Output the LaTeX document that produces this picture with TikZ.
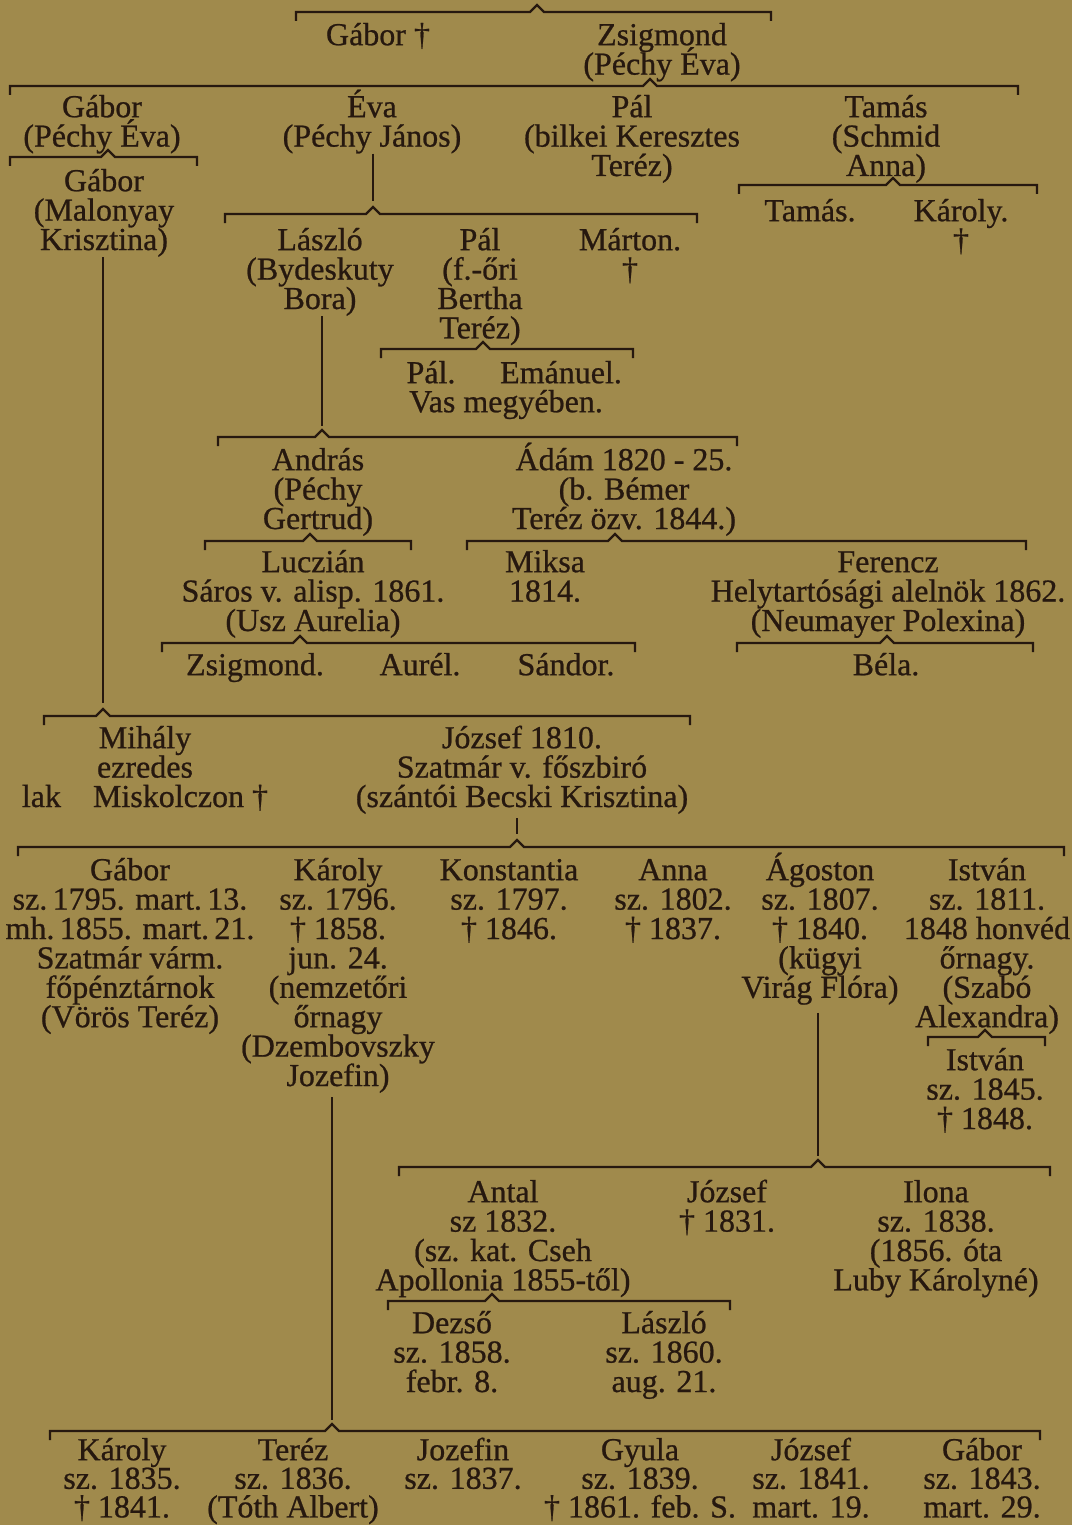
\documentclass[tikz,border=0pt]{standalone}
\usepackage{fontspec}
\setmainfont{Liberation Serif}[FakeBold=0.7]
\definecolor{paper}{HTML}{A08A4C}
\definecolor{ink}{HTML}{26180F}
\newcommand\entfont{\fontsize{32}{29.4}\selectfont}
\newcommand\toprule{\rule{0pt}{36pt}}
\tikzset{
 ent/.style={anchor=north, align=center, inner sep=0pt, yshift=26pt, text=ink,
   font=\entfont},
 tight/.style={font=\fontsize{32}{28.6}\selectfont},
 br/.style={draw=ink, line width=2.4pt, line join=miter},
 ln/.style={draw=ink, line width=2.2pt},
}
\newcommand\ent[5][]{\node[ent,#1] (#2) at (#3,#4) {\toprule #5};}
\newcommand\brk[5]{%
 \draw[br] (#2,#5+9) -- (#2,#5) -- (#3-7,#5) -- (#3,#5-7) -- (#3+7,#5) -- (#4,#5) -- (#4,#5+9);
 \coordinate (#1) at (#3,#5-7);}
\begin{document}
\lineskiplimit=-100pt\relax
\lineskip=0pt\relax
\begin{tikzpicture}[x=1pt,y=-1pt]
\useasboundingbox (0,0) rectangle (1072,1525);
\fill[paper] (0,0) rectangle (1072,1525);
% brackets
\brk{b1}{296}{537}{771}{12}
\brk{b2}{10}{650}{1018}{86}
\brk{b3}{10}{108}{197}{157}
\brk{b4}{739}{893}{1037}{185}
\brk{b5}{225}{373}{697}{214}
\brk{b6}{381}{483}{633}{349}
\brk{b7}{218}{322}{737}{437}
\brk{b8}{205}{310}{411}{541}
\brk{b9}{467}{615}{1026}{541}
\brk{b10}{162}{300}{635}{643}
\brk{b11}{737}{887}{1033}{643}
\brk{b12}{44}{103}{690}{716}
\brk{b13}{18}{517}{1064}{847}
\brk{b14}{928}{985}{1045}{1037}
\brk{b15}{399}{818}{1050}{1167}
\brk{b16}{388}{492}{730}{1301}
\brk{b17}{50}{332}{1040}{1431}
% generation 1
\ent{gabor1}{378}{35}{Gábor †}
\ent{zsig1}{662}{35}{Zsigmond\\(Péchy Éva)}
% generation 2
\ent{gabor2}{102}{107}{Gábor\\(Péchy Éva)}
\ent{eva}{372}{107}{Éva\\(Péchy János)}
\ent{pal1}{632}{107}{Pál\\(bilkei Keresztes\\Teréz)}
\ent{tamas1}{886}{107}{Tamás\\(Schmid\\Anna)}
% generation 3
\ent{gabor3}{104}{181}{Gábor\\(Malonyay\\Krisztina)}
\ent{tamas2}{810}{211}{Tamás.}
\ent{karoly1}{961}{211}{Károly.\\†}
\ent{laszlo1}{320}{240}{László\\(Bydeskuty\\Bora)}
\ent{pal2}{480}{240}{Pál\\(f.-őri\\Bertha\\Teréz)}
\ent{marton}{630}{240}{Márton.\\†}
\ent{pal3}{431}{373}{Pál.}
\ent{emanuel}{561}{373}{Emánuel.}
\ent{vas}{506}{402}{Vas megyében.}
\ent{andras}{318}{460}{András\\(Péchy\\Gertrud)}
\ent{adam}{624}{460}{Ádám 1820 - 25.\\(b. Bémer\\Teréz özv. 1844.)}
\ent{luczian}{313}{562}{Luczián\\Sáros v. alisp. 1861.\\(Usz Aurelia)}
\ent{miksa}{545}{562}{Miksa\\1814.}
\ent{ferencz}{888}{562}{Ferencz\\Helytartósági alelnök 1862.\\(Neumayer Polexina)}
\ent{zsig2}{255}{665}{Zsigmond.}
\ent{aurel}{420}{665}{Aurél.}
\ent{sandor}{566}{665}{Sándor.}
\ent{bela}{886}{665}{Béla.}
\ent{mihaly}{145}{738}{Mihály\\ezredes\\lak\quad Miskolczon †}
\ent{jozsef1}{522}{738}{József 1810.\\Szatmár v. főszbiró\\(szántói Becski Krisztina)}
% big row
\ent{gabor4}{130}{870}{Gábor\\sz.\,1795. mart.\,13.\\mh.\,1855. mart.\,21.\\Szatmár várm.\\főpénztárnok\\(Vörös Teréz)}
\ent{karoly2}{338}{870}{Károly\\sz. 1796.\\† 1858.\\jun. 24.\\(nemzetőri\\őrnagy\\(Dzembovszky\\Jozefin)}
\ent{konst}{509}{870}{Konstantia\\sz. 1797.\\† 1846.}
\ent{anna}{673}{870}{Anna\\sz. 1802.\\† 1837.}
\ent{agoston}{820}{870}{Ágoston\\sz. 1807.\\† 1840.\\(kügyi\\Virág Flóra)}
\ent{istvan1}{987}{870}{István\\sz. 1811.\\1848 honvéd\\őrnagy.\\(Szabó\\Alexandra)}
\ent{istvan2}{985}{1060}{István\\sz. 1845.\\† 1848.}
\ent{antal}{503}{1192}{Antal\\sz 1832.\\(sz. kat. Cseh\\Apollonia 1855-től)}
\ent{jozsef2}{727}{1192}{József\\† 1831.}
\ent{ilona}{936}{1192}{Ilona\\sz. 1838.\\(1856. óta\\Luby Károlyné)}
\ent{dezso}{452}{1323}{Dezső\\sz. 1858.\\febr. 8.}
\ent{laszlo2}{664}{1323}{László\\sz. 1860.\\aug. 21.}
% bottom row
\ent[tight]{karoly3}{122}{1450}{Károly\\sz. 1835.\\† 1841.}
\ent[tight]{terez}{293}{1450}{Teréz\\sz. 1836.\\(Tóth Albert)}
\ent[tight]{jozefin}{463}{1450}{Jozefin\\sz. 1837.}
\ent[tight]{gyula}{640}{1450}{Gyula\\sz. 1839.\\† 1861. feb. S.}
\ent[tight]{jozsef3}{811}{1450}{József\\sz. 1841.\\mart. 19.}
\ent[tight]{gabor5}{982}{1450}{Gábor\\sz. 1843.\\mart. 29.}
% descent lines
\draw[ln, shorten >=6pt] (b5 |- eva.south) -- (b5);
\draw[ln, shorten >=4pt] (b7 |- laszlo1.south) -- (b7);
\draw[ln, shorten >=6pt] (b12 |- gabor3.south) -- (b12);
\draw[ln, shorten <=4pt, shorten >=6pt] (b13 |- jozsef1.south) -- (b13);
\draw[ln, shorten <=4pt, shorten >=4pt] (b17 |- karoly2.south) -- (b17);
\draw[ln, shorten <=8pt, shorten >=4pt] (b15 |- agoston.south) -- (b15);
\end{tikzpicture}
\end{document}
